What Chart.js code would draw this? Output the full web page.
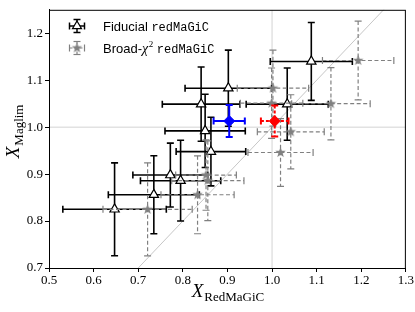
<!DOCTYPE html>
<html>
<head>
<meta charset="utf-8">
<script src="https://cdn.jsdelivr.net/npm/chart.js@4.4.0/dist/chart.umd.min.js"></script>
<style>
html, body { margin: 0; padding: 0; background: #fff; }
#wrap { width: 415px; height: 312px; }
</style>
</head>
<body>
<div id="wrap"><canvas id="c"></canvas></div>
<script>
// fiducial redMaGiC
fidX = [0.647, 0.735, 0.772, 0.795, 0.863, 0.850, 0.841, 0.902, 1.034, 1.088];
fidY = [0.825, 0.856, 0.898, 0.886, 0.948, 0.992, 1.049, 1.083, 1.049, 1.140];
fidXErr = [0.116, 0.102, 0.084, 0.090, 0.078, 0.090, 0.087, 0.097, 0.092, 0.092];
fidYErr = [0.099, 0.083, 0.068, 0.086, 0.073, 0.078, 0.079, 0.081, 0.077, 0.083];
// broad chi2 redMaGiC
broadX = [0.721, 0.833, 0.852, 0.856, 1.019, 1.042, 0.999, 1.002, 1.132, 1.193];
broadY = [0.825, 0.856, 0.898, 0.886, 0.946, 0.990, 1.051, 1.083, 1.050, 1.142];
broadXErr = [0.100, 0.082, 0.068, 0.081, 0.073, 0.075, 0.070, 0.080, 0.088, 0.080];
broadYErr = [0.099, 0.083, 0.075, 0.085, 0.072, 0.079, 0.075, 0.081, 0.077, 0.084];
// combined points
blueX = [0.904]; blueY = [1.013]; blueXErr = [0.035]; blueYErr = [0.034];
redX = [1.006]; redY = [1.013]; redXErr = [0.031]; redYErr = [0.033];

xTicks = [0.5, 0.6, 0.7, 0.8, 0.9, 1.0, 1.1, 1.2, 1.3];
yTicks = [0.7, 0.8, 0.9, 1.0, 1.1, 1.2];
xRange = [0.5, 1.3];
yRange = [0.7, 1.25];

function pts(xs, ys) {
    return xs.map(function (x, i) { return {x: x, y: ys[i]}; });
}

function makeStar(r, color) {
    var cv = document.createElement('canvas');
    var s = Math.ceil(r * 2 + 2);
    cv.width = s; cv.height = s;
    var c = cv.getContext('2d');
    c.beginPath();
    for (var i = 0; i < 10; i++) {
        var rr = i % 2 == 0 ? r : r * 0.42;
        var a = -Math.PI / 2 + i * Math.PI / 5;
        var px = s / 2 + rr * Math.cos(a), py = s / 2 + rr * Math.sin(a);
        if (i == 0) c.moveTo(px, py); else c.lineTo(px, py);
    }
    c.closePath();
    c.fillStyle = color;
    c.fill();
    return cv;
}
var star = makeStar(5.5, '#808080');

function drawBar(ctx, x1, y1, x2, y2) {
    ctx.beginPath(); ctx.moveTo(x1, y1); ctx.lineTo(x2, y2); ctx.stroke();
}

function drawErr(ctx, cx, cy, l, r, t, b, st) {
    ctx.save();
    ctx.strokeStyle = st.color;
    ctx.lineWidth = st.width;
    ctx.setLineDash(st.dash || []);
    drawBar(ctx, l, cy, r, cy);
    drawBar(ctx, cx, t, cx, b);
    ctx.setLineDash([]);
    var c = 3.5;
    drawBar(ctx, l, cy - c, l, cy + c);
    drawBar(ctx, r, cy - c, r, cy + c);
    drawBar(ctx, cx - c, t, cx + c, t);
    drawBar(ctx, cx - c, b, cx + c, b);
    ctx.restore();
}

var errPlugin = {
    id: 'errbars',
    beforeDatasetDraw: function (chart, args) {
        var ds = chart.data.datasets[args.index];
        if (!ds.errX) return;
        var xs = chart.scales.x, ys = chart.scales.y, ctx = chart.ctx;
        ctx.save();
        ctx.beginPath();
        ctx.rect(chart.chartArea.left, chart.chartArea.top, chart.chartArea.width, chart.chartArea.height);
        ctx.clip();
        ds.data.forEach(function (p, i) {
            drawErr(ctx, xs.getPixelForValue(p.x), ys.getPixelForValue(p.y),
                xs.getPixelForValue(p.x - ds.errX[i]), xs.getPixelForValue(p.x + ds.errX[i]),
                ys.getPixelForValue(p.y + ds.errY[i]), ys.getPixelForValue(p.y - ds.errY[i]), ds.errStyle);
        });
        ctx.restore();
    }
};

var decoPlugin = {
    id: 'deco',
    afterDraw: function (chart) {
        var ctx = chart.ctx, a = chart.chartArea;
        ctx.save();
        // frame
        ctx.strokeStyle = '#000';
        ctx.lineWidth = 1;
        ctx.strokeRect(a.left + 0.5, a.top + 0.5, a.width - 1, a.height);

        // x axis title
        ctx.fillStyle = '#000';
        ctx.textBaseline = 'alphabetic';
        ctx.font = 'italic 19px "Liberation Serif"';
        var w1 = ctx.measureText('X').width;
        ctx.font = '13px "Liberation Serif"';
        var w2 = ctx.measureText('RedMaGiC').width;
        var x0 = (a.left + a.right) / 2 - (w1 + w2) / 2;
        ctx.font = 'italic 19px "Liberation Serif"';
        ctx.fillText('X', x0, 297);
        ctx.font = '13px "Liberation Serif"';
        ctx.fillText('RedMaGiC', x0 + w1 + 1, 301);

        // y axis title
        ctx.save();
        ctx.translate(19, (a.top + a.bottom) / 2 - 7);
        ctx.rotate(-Math.PI / 2);
        ctx.font = 'italic 19px "Liberation Serif"';
        w1 = ctx.measureText('X').width;
        ctx.font = '13px "Liberation Serif"';
        w2 = ctx.measureText('Maglim').width;
        x0 = -(w1 + w2) / 2;
        ctx.font = 'italic 19px "Liberation Serif"';
        ctx.fillText('X', x0, 0);
        ctx.font = '13px "Liberation Serif"';
        ctx.fillText('Maglim', x0 + w1 + 1, 4);
        ctx.restore();

        // legend
        var ix = 77;
        drawErr(ctx, ix, 26, ix - 7.5, ix + 7.5, 19.5, 32.5, {color: '#000', width: 1.5});
        ctx.fillStyle = '#fff'; ctx.strokeStyle = '#000'; ctx.lineWidth = 1.2;
        ctx.beginPath();
        ctx.moveTo(ix, 21); ctx.lineTo(ix + 4.5, 28.6); ctx.lineTo(ix - 4.5, 28.6); ctx.closePath();
        ctx.fill(); ctx.stroke();

        drawErr(ctx, ix, 48, ix - 7.5, ix + 7.5, 41.5, 54.5, {color: '#808080', width: 1.2, dash: [3, 2]});
        ctx.drawImage(star, ix - star.width / 2, 48 - star.height / 2);

        ctx.fillStyle = '#000';
        var tx = 103;
        ctx.font = '13px "Liberation Sans"';
        ctx.fillText('Fiducial ', tx, 30.5);
        var w = ctx.measureText('Fiducial ').width;
        ctx.font = '12px "Liberation Mono"';
        ctx.fillText('redMaGiC', tx + w, 30.5);

        ctx.font = '13px "Liberation Sans"';
        ctx.fillText('Broad-', tx, 52.5);
        w = ctx.measureText('Broad-').width;
        ctx.font = 'italic 14px "Liberation Serif"';
        ctx.fillText('\u03c7', tx + w, 52.5);
        w += ctx.measureText('\u03c7').width + 0.5;
        ctx.font = '9px "Liberation Serif"';
        ctx.fillText('2', tx + w, 46.5);
        w += ctx.measureText('2').width;
        ctx.font = '13px "Liberation Sans"';
        w += ctx.measureText(' ').width;
        ctx.font = '12px "Liberation Mono"';
        ctx.fillText('redMaGiC', tx + w, 52.5);
        ctx.restore();
    }
};

var tickFont = {family: '"Liberation Serif"', size: 13};

new Chart(document.getElementById('c'), {
    type: 'scatter',
    data: {
        datasets: [
            {data: [{x: xRange[0], y: xRange[0]}, {x: xRange[1], y: xRange[1]}], showLine: true, pointRadius: 0,
                borderColor: '#b8b8b8', borderWidth: 0.8, order: 20},
            {data: [{x: xRange[0], y: 1}, {x: xRange[1], y: 1}], showLine: true, pointRadius: 0,
                borderColor: '#d3d3d3', borderWidth: 1, order: 21},
            {data: [{x: 1, y: yRange[0]}, {x: 1, y: yRange[1]}], showLine: true, pointRadius: 0,
                borderColor: '#d3d3d3', borderWidth: 1, order: 22},
            {label: 'Fiducial redMaGiC', data: pts(fidX, fidY), errX: fidXErr, errY: fidYErr,
                errStyle: {color: '#000', width: 1.6},
                pointStyle: 'triangle', pointRadius: 5.4, backgroundColor: '#fff', borderColor: '#000',
                borderWidth: 1.2, order: 4},
            {label: 'Broad-chi2 redMaGiC', data: pts(broadX, broadY), errX: broadXErr, errY: broadYErr,
                errStyle: {color: '#808080', width: 1.2, dash: [4, 2.5]},
                pointStyle: star, pointRadius: 5, order: 3},
            {data: pts(blueX, blueY), errX: blueXErr, errY: blueYErr,
                errStyle: {color: '#0000ff', width: 2},
                pointStyle: 'rectRot', pointRadius: 5.5, backgroundColor: '#0000ff', borderColor: '#0000ff',
                borderWidth: 1, order: 2},
            {data: pts(redX, redY), errX: redXErr, errY: redYErr,
                errStyle: {color: '#ff0000', width: 2, dash: [3, 2]},
                pointStyle: 'rectRot', pointRadius: 5.5, backgroundColor: '#ff0000', borderColor: '#ff0000',
                borderWidth: 1, order: 1}
        ]
    },
    options: {
        responsive: true,
        maintainAspectRatio: false,
        animation: false,
        devicePixelRatio: 1,
        layout: {padding: {top: 8, right: 8, left: 0, bottom: 0}},
        plugins: {legend: {display: false}, tooltip: {enabled: false}},
        scales: {
            x: {
                type: 'linear', min: xRange[0], max: xRange[1],
                afterBuildTicks: function (s) { s.ticks = xTicks.map(function (v) { return {value: v}; }); },
                afterFit: function (s) { s.height = 44; },
                ticks: {font: tickFont, color: '#000', padding: 1, maxRotation: 0,
                    callback: function (v) { return v.toFixed(1); }},
                grid: {drawOnChartArea: false, tickLength: 4, color: '#000'},
                border: {color: '#000', width: 1}
            },
            y: {
                type: 'linear', min: yRange[0], max: yRange[1],
                afterBuildTicks: function (s) { s.ticks = yTicks.map(function (v) { return {value: v}; }); },
                afterFit: function (s) { s.width = 49; },
                ticks: {font: tickFont, color: '#000', padding: 2,
                    callback: function (v) { return v.toFixed(1); }},
                grid: {drawOnChartArea: false, tickLength: 4, color: '#000'},
                border: {color: '#000', width: 1}
            }
        }
    },
    plugins: [errPlugin, decoPlugin]
});
</script>
</body>
</html>
